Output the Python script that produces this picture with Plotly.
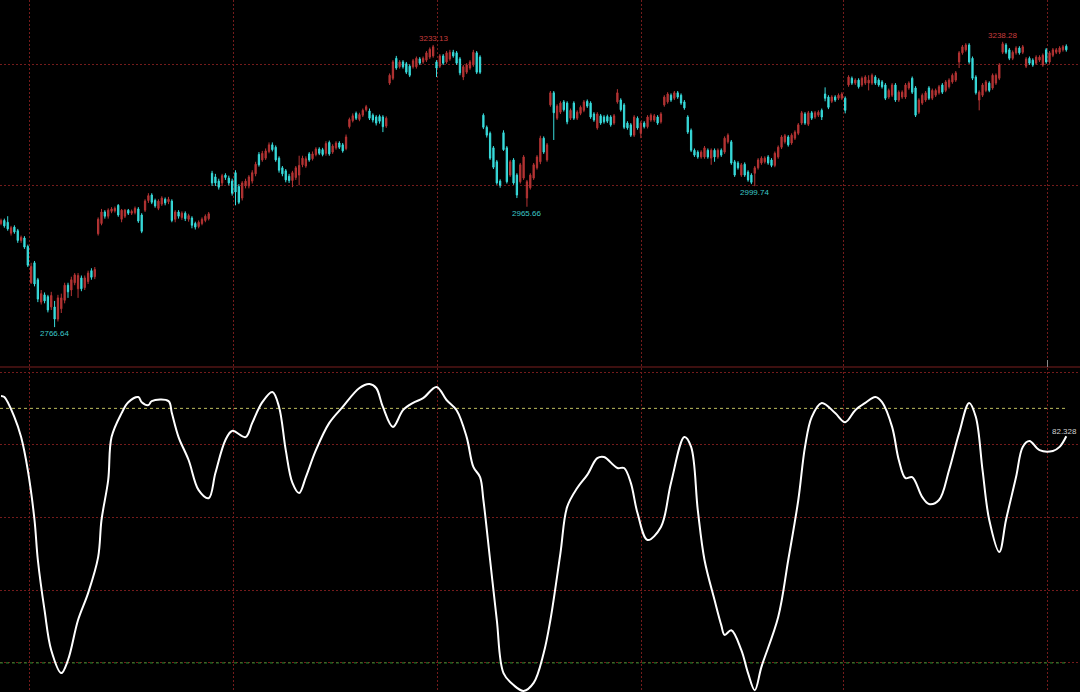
import plotly.graph_objects as go

# ---------------- data ----------------
opens = [
    2938, 2943, 2940, 2922, 2932, 2926, 2910, 2914, 2900, 2840,
    2873, 2845, 2808, 2820, 2817, 2800, 2800, 2780, 2797, 2811,
    2836, 2828, 2840, 2830, 2848, 2832, 2842, 2860, 2850, 2921,
    2938, 2957, 2950, 2958, 2959, 2968, 2945, 2950, 2960, 2955,
    2956, 2962, 2952, 2960, 2976, 2985, 2976, 2963, 2970, 2978,
    2974, 2975, 2945, 2957, 2948, 2955, 2945, 2947, 2938, 2933,
    2938, 2943, 2946,
    3021, 3015, 3008, 3005, 3018, 3013, 3008, 3022, 2999, 2980,
    3000, 3000, 3008, 3020, 3052, 3043, 3046, 3057, 3068, 3064,
    3046, 3030, 3025, 3016, 3009, 3014, 3018, 3035, 3033, 3053,
    3045, 3052, 3061, 3060, 3054, 3072, 3056, 3063, 3071, 3068,
    3062, 3098, 3108, 3120, 3110,
    3117, 3126, 3124, 3117, 3114, 3115, 3114, 3099, 3170, 3178,
    3211, 3197, 3205, 3202, 3198, 3197, 3197, 3210, 3205, 3208,
    3213, 3215, 3205, 3198, 3215, 3205, 3210, 3221, 3220, 3210,
    3180, 3188, 3195, 3200, 3220, 3213,
    3117, 3097, 3087, 3063, 3040, 3008, 3088, 3063, 3018, 3043,
    3018, 3007, 3013, 2980, 2997, 3013, 3030,
    3040, 3079, 3043, 3134, 3154, 3112, 3122, 3139, 3137, 3112,
    3137, 3112, 3120, 3125, 3140, 3137, 3119, 3096, 3116, 3114,
    3115, 3114, 3104, 3139, 3142, 3134, 3104, 3101, 3084, 3112,
    3087, 3104, 3098, 3109, 3109, 3114, 3106, 3134, 3139, 3150,
    3145, 3154, 3150, 3139, 3114, 3092, 3059, 3056, 3048, 3048,
    3059, 3046, 3059, 3048,
    3059, 3056, 3073, 3073, 3040, 3038, 3018, 3036, 3023, 3018,
    3021, 3030, 3038, 3040, 3048, 3043, 3034, 3048, 3064, 3073,
    3081, 3071, 3079, 3087, 3104, 3119, 3102, 3121, 3114, 3117,
    3125, 3152, 3147, 3140, 3147, 3145, 3145, 3145, 3167, 3178,
    3170, 3175, 3167, 3170, 3170, 3170, 3180, 3175, 3172, 3167,
    3147, 3150, 3167, 3142,
    3147, 3147, 3162, 3178, 3162, 3122, 3137, 3142, 3162, 3145,
    3150, 3154, 3167, 3158, 3164, 3172, 3175, 3205, 3220, 3225,
    3233, 3211, 3180, 3142, 3150, 3158, 3170, 3162, 3170, 3178,
    3221, 3233, 3225, 3211, 3220, 3228, 3221, 3198, 3211, 3208,
    3203, 3208, 3200, 3225, 3205, 3216, 3221, 3221, 3225, 3231,
]
highs = [
    2946, 2946, 2950, 2934, 2935, 2929, 2918, 2917, 2903, 2873,
    2876, 2848, 2828, 2824, 2820, 2825, 2810, 2820, 2822, 2840,
    2840, 2850, 2856, 2856, 2852, 2852, 2860, 2864, 2866, 2948,
    2962, 2960, 2963, 2965, 2966, 2970, 2962, 2962, 2962, 2961,
    2966, 2965, 2955, 2978, 2988, 2988, 2979, 2978, 2983, 2981,
    2982, 2978, 2960, 2960, 2958, 2958, 2954, 2950, 2941, 2943,
    2948, 2953, 2957,
    3025, 3020, 3012, 3020, 3021, 3017, 3012, 3026, 3003, 3008,
    3012, 3018, 3026, 3040, 3056, 3058, 3062, 3072, 3072, 3067,
    3049, 3033, 3028, 3020, 3025, 3033, 3050, 3050, 3049, 3056,
    3057, 3064, 3064, 3063, 3074, 3075, 3069, 3074, 3074, 3071,
    3085, 3113, 3120, 3123, 3121,
    3128, 3134, 3128, 3120, 3117, 3118, 3117, 3115, 3186, 3208,
    3215, 3208, 3208, 3205, 3201, 3210, 3214, 3213, 3214, 3223,
    3229, 3233.13, 3208, 3218, 3218, 3223, 3225, 3225, 3223, 3213,
    3200, 3203, 3208, 3225, 3223, 3216,
    3120, 3100, 3090, 3066, 3043, 3011, 3092, 3066, 3043, 3046,
    3021, 3038, 3051, 3010, 3021, 3038, 3051,
    3083, 3082, 3071, 3157, 3157, 3135, 3140, 3142, 3140, 3128,
    3140, 3125, 3133, 3142, 3143, 3140, 3122, 3122, 3119, 3117,
    3118, 3117, 3119, 3160, 3145, 3137, 3107, 3104, 3117, 3115,
    3107, 3107, 3117, 3120, 3119, 3117, 3122, 3150, 3155, 3153,
    3157, 3157, 3153, 3142, 3117, 3095, 3062, 3059, 3059, 3066,
    3062, 3062, 3062, 3062,
    3062, 3082, 3087, 3076, 3043, 3041, 3038, 3039, 3026, 3021,
    3033, 3046, 3049, 3049, 3051, 3046, 3057, 3067, 3084, 3086,
    3084, 3087, 3092, 3104, 3124, 3122, 3124, 3124, 3124, 3125,
    3128, 3163, 3150, 3150, 3150, 3153, 3155, 3148, 3183, 3181,
    3178, 3178, 3181, 3183, 3183, 3186, 3183, 3178, 3175, 3170,
    3161, 3170, 3170, 3158,
    3158, 3170, 3173, 3181, 3165, 3145, 3153, 3157, 3165, 3161,
    3161, 3167, 3170, 3175, 3178, 3186, 3190, 3223, 3233, 3236,
    3236, 3214, 3183, 3158, 3170, 3175, 3173, 3186, 3186, 3203,
    3238.28, 3236, 3228, 3224, 3231, 3231, 3233, 3213, 3214, 3211,
    3216, 3216, 3219, 3228, 3223, 3228, 3228, 3231, 3233, 3234,
]
lows = [
    2935, 2931, 2926, 2918, 2921, 2906, 2906, 2896, 2866, 2838,
    2834, 2808, 2804, 2806, 2791, 2795, 2766.64, 2776, 2790, 2806,
    2815, 2818, 2836, 2815, 2826, 2828, 2838, 2845, 2846, 2918,
    2935, 2946, 2946, 2955, 2956, 2949, 2940, 2947, 2952, 2952,
    2953, 2939, 2922, 2957, 2972, 2970, 2964, 2960, 2967, 2968,
    2970, 2940, 2940, 2946, 2944, 2942, 2941, 2930, 2928, 2930,
    2935, 2940, 2943,
    3000, 3000, 2994, 3000, 3010, 3001, 2984, 2968, 2970, 2976,
    2996, 2996, 3004, 3016, 3032, 3040, 3043, 3054, 3057, 3040,
    3022, 3016, 3006, 3005, 2998, 3010, 3001, 3031, 3030, 3040,
    3042, 3049, 3051, 3049, 3050, 3050, 3053, 3060, 3061, 3055,
    3059, 3095, 3105, 3109, 3107,
    3114, 3123, 3109, 3105, 3100, 3103, 3089, 3096, 3167, 3175,
    3192, 3194, 3194, 3185, 3180, 3194, 3194, 3200, 3202, 3205,
    3210, 3212, 3180, 3195, 3200, 3202, 3207, 3212, 3200, 3183,
    3175, 3185, 3192, 3197, 3185, 3185,
    3094, 3080, 3043, 3028, 3002, 2997, 3058, 3004, 3015, 3002,
    2980, 3004, 3010, 2965.66, 2994, 3010, 3027,
    3036, 3053, 3040, 3131, 3076, 3109, 3119, 3123, 3102, 3109,
    3109, 3109, 3117, 3122, 3129, 3111, 3106, 3093, 3101, 3103,
    3104, 3098, 3101, 3136, 3123, 3094, 3093, 3081, 3081, 3093,
    3079, 3095, 3095, 3106, 3106, 3101, 3103, 3131, 3136, 3139,
    3142, 3144, 3134, 3126, 3086, 3056, 3048, 3045, 3045, 3045,
    3045, 3035, 3040, 3045,
    3048, 3053, 3070, 3035, 3015, 3027, 3015, 3015, 3007, 3003,
    2999.74, 3027, 3035, 3037, 3035, 3031, 3031, 3045, 3061, 3070,
    3065, 3068, 3076, 3084, 3101, 3101, 3099, 3109, 3111, 3114,
    3109, 3140, 3127, 3137, 3139, 3142, 3142, 3120, 3164, 3167,
    3167, 3161, 3164, 3167, 3158, 3167, 3167, 3164, 3161, 3142,
    3144, 3147, 3139, 3139,
    3144, 3144, 3159, 3152, 3114, 3119, 3134, 3139, 3142, 3142,
    3147, 3151, 3152, 3155, 3161, 3169, 3172, 3195, 3217, 3222,
    3202, 3175, 3151, 3125, 3147, 3155, 3155, 3159, 3167, 3175,
    3218, 3218, 3208, 3208, 3217, 3217, 3218, 3195, 3200, 3197,
    3200, 3205, 3197, 3202, 3202, 3213, 3218, 3218, 3222, 3222,
]
closes = [
    2943, 2934, 2929, 2931, 2924, 2910, 2915, 2899, 2869, 2867,
    2838, 2813, 2822, 2810, 2795, 2819, 2780, 2815, 2815, 2836,
    2825, 2845, 2853, 2852, 2830, 2848, 2856, 2849, 2862, 2945,
    2957, 2950, 2960, 2962, 2963, 2952, 2960, 2960, 2955, 2958,
    2963, 2942, 2925, 2975, 2984, 2973, 2967, 2975, 2980, 2972,
    2978, 2943, 2957, 2950, 2955, 2946, 2951, 2935, 2932, 2940,
    2945, 2950, 2954,
    3005, 3005, 2998, 3017, 3014, 3005, 2988, 2990, 2973, 3005,
    3008, 3015, 3022, 3036, 3035, 3054, 3058, 3068, 3060, 3043,
    3026, 3020, 3010, 3009, 3022, 3030, 3034, 3046, 3045, 3043,
    3053, 3061, 3054, 3052, 3070, 3053, 3066, 3071, 3064, 3058,
    3081, 3110, 3116, 3112, 3118,
    3125, 3131, 3112, 3109, 3104, 3107, 3098, 3112, 3183, 3205,
    3195, 3205, 3197, 3188, 3183, 3207, 3211, 3203, 3211, 3220,
    3226, 3230, 3195, 3215, 3203, 3220, 3221, 3215, 3203, 3187,
    3197, 3200, 3205, 3221, 3188, 3188,
    3097, 3084, 3046, 3031, 3005, 3001, 3060, 3007, 3040, 3005,
    2985, 3035, 3048, 3007, 3018, 3035, 3048,
    3079, 3056, 3068, 3154, 3121, 3132, 3137, 3126, 3106, 3125,
    3112, 3122, 3130, 3139, 3132, 3114, 3109, 3119, 3104, 3106,
    3107, 3101, 3116, 3154, 3126, 3097, 3096, 3084, 3114, 3096,
    3104, 3098, 3114, 3117, 3116, 3104, 3119, 3147, 3152, 3142,
    3154, 3147, 3137, 3129, 3089, 3059, 3051, 3048, 3056, 3063,
    3048, 3059, 3048, 3059,
    3051, 3079, 3084, 3038, 3018, 3030, 3035, 3018, 3010, 3006,
    3030, 3043, 3046, 3046, 3038, 3034, 3054, 3064, 3081, 3083,
    3068, 3084, 3089, 3101, 3121, 3104, 3121, 3112, 3121, 3122,
    3114, 3145, 3130, 3147, 3142, 3150, 3152, 3125, 3180, 3170,
    3175, 3164, 3178, 3180, 3175, 3183, 3170, 3167, 3164, 3145,
    3158, 3167, 3142, 3155,
    3155, 3167, 3170, 3155, 3117, 3142, 3150, 3154, 3145, 3158,
    3158, 3164, 3155, 3172, 3175, 3183, 3187, 3220, 3230, 3233,
    3205, 3178, 3154, 3155, 3167, 3172, 3158, 3183, 3183, 3200,
    3235, 3221, 3211, 3221, 3228, 3220, 3230, 3210, 3203, 3200,
    3213, 3213, 3216, 3205, 3220, 3225, 3225, 3228, 3230, 3225,
]

# oscillator (bar index, value)
osc_idx = [0, 1, 4, 6, 8, 10, 11, 13, 15, 18, 20, 23, 26, 29, 30, 32, 33, 36, 38, 41,
           42, 44, 45, 50, 51, 53, 56, 59, 62, 64, 67, 69, 73, 75, 78, 81, 83, 85, 87, 89,
           91, 94, 98, 102, 107, 110, 112, 114, 117, 120, 123, 126, 130, 133, 136, 139, 141, 143, 144, 146,
           148, 150, 153, 156, 159, 162, 164, 167, 169, 172, 175, 178, 180, 184, 186, 188, 190, 193, 197, 200,
           204, 206, 208, 210, 213, 215, 216, 218, 221, 223, 225, 227, 232, 235, 238, 240, 242, 245, 249, 252,
           255, 258, 261, 263, 266, 268, 270, 272, 275, 277, 280, 283, 286, 289, 291, 293, 295, 298, 300, 303,
           305, 307, 310, 314, 316, 318]
osc_val = [93.4, 93.1, 87.6, 82.1, 73.0, 59.3, 48.3, 34.5, 23.5, 17.2, 20.8, 31.8, 39.2, 49.1, 59.3, 70.3, 82.1, 88.7, 91.7, 93.1,
           91.7, 90.9, 92.0, 92.0, 88.7, 82.1, 75.8, 67.5, 65.3, 72.2, 81.3, 83.8, 82.1, 86.0, 91.7, 94.5, 90.4, 78.5, 69.5, 66.7,
           71.1, 78.5, 86.0, 90.4, 95.6, 96.7, 95.6, 90.4, 84.9, 89.5, 91.5, 92.8, 95.9, 92.3, 89.5, 82.1, 73.9, 71.1, 64.8, 48.3,
           31.8, 17.2, 13.9, 12.3, 14.5, 22.7, 31.8, 50.2, 62.9, 68.1, 71.7, 76.3, 76.6, 73.6, 73.6, 69.5, 61.2, 53.8, 57.4, 69.5,
           82.1, 79.4, 62.0, 48.3, 37.3, 30.4, 27.7, 29.0, 23.5, 17.2, 12.5, 18.9, 32.6, 48.3, 64.8, 79.4, 87.6, 91.5, 88.7, 86.2,
           89.5, 91.5, 93.1, 91.7, 84.9, 75.8, 70.8, 71.1, 65.6, 63.7, 64.8, 73.0, 83.2, 91.5, 87.6, 73.0, 59.3, 50.5, 59.3, 71.1,
           79.4, 81.0, 78.5, 78.3, 79.4, 82.328]

price_grid = [3000, 3200]
osc_grid = [20, 40, 60, 80, 100]
period_breaks = [8.51, 69.4, 130.3, 191.2, 251.5, 312.4]
overbought = 90
oversold = 20
extreme_idx = [16, 129, 157, 225, 299]
extreme_kind = ["low", "high", "low", "low", "high"]

# ---------------- styling / layout ----------------
W, H = 1080, 692
RED = "#b53434"
CYAN = "#38dcdc"
GRID = "#741b1b"
px_per_bar = 3.35
n = len(closes)
xs = list(range(n))
x_range = [-1 / px_per_bar, (W - 1) / px_per_bar]
top_dom = [1 - 366 / H, 1]
bot_dom = [0, 1 - 368 / H]
top_range = [2702.4, 3307.4]
bot_range = [12.0, 101.1]

fig = go.Figure()
fig.add_trace(go.Candlestick(
    x=xs, open=opens, high=highs, low=lows, close=closes,
    increasing=dict(line=dict(color=RED, width=1), fillcolor=RED),
    decreasing=dict(line=dict(color=CYAN, width=1), fillcolor=CYAN),
    whiskerwidth=0, xaxis="x", yaxis="y", hoverinfo="skip", showlegend=False,
))
fig.add_trace(go.Scatter(
    x=osc_idx, y=osc_val, mode="lines",
    line=dict(color="#ffffff", width=2, shape="spline", smoothing=1.0),
    xaxis="x2", yaxis="y2", hoverinfo="skip", showlegend=False,
))

axis_common = dict(showticklabels=False, ticks="", zeroline=False, showline=False,
                   showgrid=True, gridcolor=GRID, gridwidth=1, griddash="2px,2px",
                   tickmode="array")

fig.update_layout(
    width=W, height=H,
    margin=dict(l=0, r=0, t=0, b=0),
    paper_bgcolor="#000000", plot_bgcolor="#000000",
    showlegend=False, hovermode=False, boxgap=0.45,
    xaxis=dict(domain=[0, 1], range=x_range, anchor="y", tickvals=period_breaks,
               rangeslider=dict(visible=False), **axis_common),
    yaxis=dict(domain=top_dom, range=top_range, anchor="x", tickvals=price_grid, **axis_common),
    xaxis2=dict(domain=[0, 1], range=x_range, anchor="y2", matches="x", tickvals=period_breaks,
                **axis_common),
    yaxis2=dict(domain=bot_dom, range=bot_range, anchor="x2", tickvals=osc_grid, **axis_common),
)

# reference lines in the oscillator panel
fig.add_shape(type="line", xref="x2", yref="y2", x0=x_range[0], x1=n - 1,
              y0=overbought, y1=overbought, layer="between",
              line=dict(color="#bdbd5e", width=1, dash="3px,3px"))
fig.add_shape(type="line", xref="x2", yref="y2", x0=x_range[0], x1=n - 1,
              y0=oversold, y1=oversold, layer="between",
              line=dict(color="#2f8f2f", width=1, dash="3px,3px"))
# panel separator
sep_y = 1 - 367 / H
fig.add_shape(type="line", xref="paper", yref="paper", x0=0, x1=1, y0=sep_y, y1=sep_y,
              line=dict(color="#7a1f1f", width=1))
fig.add_shape(type="line", xref="paper", yref="paper", x0=1047.5 / W, x1=1047.5 / W,
              y0=1 - 360 / H, y1=sep_y, line=dict(color="#8a8a8a", width=1))

# high / low labels
for i, kind in zip(extreme_idx, extreme_kind):
    if kind == "high":
        fig.add_annotation(x=i, y=highs[i], xref="x", yref="y", text=f"{highs[i]:.2f}",
                           showarrow=False, yanchor="bottom", yshift=0,
                           font=dict(family="Liberation Sans", size=8, color="#c83c3c"))
    else:
        fig.add_annotation(x=i, y=lows[i], xref="x", yref="y", text=f"{lows[i]:.2f}",
                           showarrow=False, yanchor="top", yshift=0,
                           font=dict(family="Liberation Sans", size=8, color="#3cc8c8"))

fig.add_annotation(x=osc_idx[-1], y=osc_val[-1], xref="x2", yref="y2",
                   text=f"{osc_val[-1]:.3f}", showarrow=False, xanchor="left", yanchor="middle",
                   xshift=-16, yshift=5,
                   font=dict(family="Liberation Sans", size=8, color="#d0d0d0"))

fig.write_html("out.html", config={"displayModeBar": False},
               post_script="document.body.style.margin='0';document.body.style.padding='0';"
                           "document.body.style.overflow='hidden';")
